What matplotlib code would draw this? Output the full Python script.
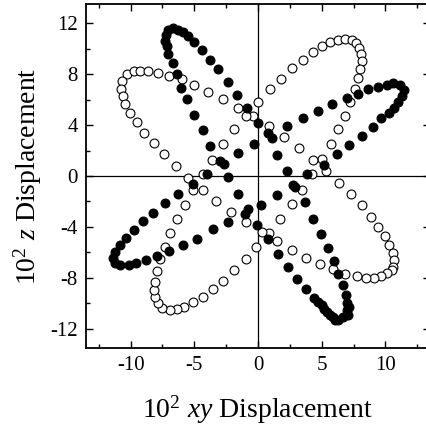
import matplotlib
matplotlib.use('Agg')
import matplotlib.pyplot as plt
from matplotlib.ticker import MultipleLocator

plt.rcParams['font.family'] = ['Liberation Serif', 'DejaVu Serif']
plt.rcParams['mathtext.fontset'] = 'custom'
plt.rcParams['mathtext.rm'] = 'Liberation Serif'
plt.rcParams['mathtext.it'] = 'Liberation Serif:italic'
plt.rcParams['axes.unicode_minus'] = False

# filled-circle series (x, y) in units of 10^-2
filled_x = [
    -7.29, -7.23, -7.03, -6.64, -6.25, -5.85, -5.46, -5.02, -4.41, -3.76, -3.11, -2.37, -1.67, -0.84, -0.02,
    -7.11, -7.03, -6.68, -6.32, -6.06, -5.59, -4.99, -4.33, -3.76, -2.98, -2.66, -2.33,
    -3.97, -1.54, -0.29, 0.81, 1.07, 2.25, 3.50, 1.51, 2.30, 3.86, 2.72, 2.90, 1.47, 0.24, -1.59, -1.02, -0.76,
    -2.33, -0.04, -3.55, 3.68, 4.33,
    4.68, 5.78, 6.95, 7.86,
    8.64, 9.43, 10.09, 10.60, 11.13, 11.44, 11.34, 11.00, 10.66, 10.29,
    9.69, 8.99, 8.13, 7.16, 6.21, 5.17,
    -5.07, -6.25, -7.29, -8.21, -9.04, -9.77,
    -10.34, -10.87, -11.26, -11.39, -11.21, -10.82, -10.16, -9.56,
    -8.78, -7.89, -6.95, -5.90, -4.80,
    4.91, 5.46, 5.96, 6.29, 6.64, 6.90, 7.00,
    7.16, 6.95, 7.08, 6.68, 6.29, 6.03, 5.85, 5.64, 5.43, 5.17, 4.99, 4.73,
    4.39, 3.76, 3.08, 2.37, 1.59, 0.81,
]
filled_y = [
    10.57, 11.09, 11.43, 11.59, 11.48, 11.27, 10.96, 10.49, 9.87, 9.14, 8.36, 7.37, 6.33, 5.37, 4.14,
    10.18, 9.61, 8.83, 7.97, 6.93, 6.02, 4.79, 3.62, 2.37, 1.20, 0.94, -0.10,
    0.16, 1.77, 2.50, 3.41, 3.02, 3.93, 4.59, 1.64, 0.41, 0.12, -0.70, -0.88, -1.48, -2.24, -1.41, -2.97, -2.58,
    -3.62, -3.83, -4.14, -2.05, -3.36,
    5.10, 5.63, 6.12, 6.46,
    6.80, 6.98, 7.13, 7.27, 7.11, 6.74, 6.27, 5.80, 5.37, 4.98,
    4.53, 3.88, 3.15, 2.42, 1.72, 0.88,
    -0.63, -1.41, -2.13, -2.91, -3.57, -4.22,
    -4.84, -5.39, -5.96, -6.43, -6.82, -7.01, -6.95, -6.80,
    -6.56, -6.27, -5.91, -5.45, -4.92,
    -4.53, -5.65, -6.70, -7.73, -8.57, -9.35, -10.00,
    -10.26, -10.52, -10.91, -11.04, -11.30, -11.30, -11.04, -10.91, -10.70, -10.45, -10.13, -9.92,
    -9.61, -8.88, -8.05, -7.13, -6.09, -4.98,
]

# open-circle series
open_x = [
    0.94, 1.80, 2.64, 3.50, 4.29, 4.99, 5.64, 6.29, 6.82, 7.34, 7.68, 7.94, 8.07, 8.13, 7.99, 7.86, 7.60, 7.26,
    6.82, 6.29, 5.70, 4.99, 4.21,
    0.02, -0.42, 0.89, 2.04, 3.24, 4.33,
    5.36, 6.37, 7.29, 8.13, 8.83, 9.43, 9.95, 10.29, 10.56, 10.66, 10.60, 10.48, 10.13, 9.69, 9.09, 8.46, 7.74,
    6.82, 5.85, 4.86, 3.76, 2.64, 1.47, 0.89, 0.29, -0.16,
    3.42, 2.64, 1.72,
    -0.94, -1.88, -2.72, -3.55, -4.33, -5.07, -5.78, -6.37, -6.90, -7.55, -7.86, -8.07, -8.15, -8.07, -7.89,
    -7.68, -7.29, -6.90, -6.37, -5.72, -5.07, -4.33, -5.46, -4.33, -3.29, -2.12, -0.94,
    -10.29, -9.77, -9.25, -8.60, -7.81, -6.95, -5.98, -4.99, -3.89, -2.72, -1.54, -0.94,
    -10.68, -10.76, -10.63, -10.42, -10.03, -9.51, -8.93, -8.15, -7.37, -6.43,
    -1.86, -2.72, -3.58,
]
open_y = [
    6.80, 7.63, 8.44, 9.14, 9.74, 10.23, 10.52, 10.70, 10.78, 10.70, 10.45, 10.05, 9.61, 9.06, 8.41, 7.66, 6.80, 5.80,
    4.71, 3.67, 2.50, 1.33, 0.16,
    5.80, 4.71, 3.93, 3.10, 2.16, 1.27,
    0.41, -0.55, -1.41, -2.27, -3.18, -4.01, -4.74, -5.39, -6.02, -6.62, -7.13, -7.40, -7.58, -7.84, -7.97, -7.97, -7.84,
    -7.66, -7.32, -6.93, -6.41, -5.78, -5.13, -4.45, -4.40, -5.57,
    -1.07, -2.23, -3.40,
    -6.48, -7.40, -8.23, -8.88, -9.48, -9.92, -10.26, -10.45, -10.52, -10.34, -10.00, -9.48, -8.96, -8.30, -7.48,
    -6.48, -5.57, -4.48, -3.41, -2.24, -1.07, -1.07, -0.18, 0.16, -1.93, -2.79, -3.62,
    7.97, 8.23, 8.28, 8.23, 8.10, 7.84, 7.58, 7.11, 6.62, 6.02, 5.37, 4.71,
    7.45, 6.85, 6.27, 5.68, 4.98, 4.20, 3.41, 2.58, 1.72, 0.76,
    3.67, 2.50, 1.29,
]

x_ticks = [-10, -5, 0, 5, 10]
y_ticks = [-12, -8, -4, 0, 4, 8, 12]

fig = plt.figure(figsize=(4.26, 4.30), dpi=100)
ax = fig.add_axes([86/426, 82/430, 344/426, 344/430])

ax.axhline(0, color='black', lw=0.9, zorder=1)
ax.axvline(0, color='black', lw=0.9, zorder=1)

ax.plot(open_x, open_y, linestyle='none', marker='o', markersize=6.4,
        markerfacecolor='white', markeredgecolor='black', markeredgewidth=0.8, zorder=2)
ax.plot(filled_x, filled_y, linestyle='none', marker='o', markersize=6.4,
        markerfacecolor='black', markeredgecolor='black', markeredgewidth=0.8, zorder=3)

ax.set_xlim(-13.5, 13.5)
ax.set_ylim(-13.5, 13.5)
ax.set_xticks(x_ticks)
ax.set_yticks(y_ticks)
ax.xaxis.set_minor_locator(MultipleLocator(2.5))
ax.yaxis.set_minor_locator(MultipleLocator(2))
ax.tick_params(which='both', direction='in', top=True, right=True, width=1.0)
ax.tick_params(which='major', length=5, labelsize=15, pad=6)
ax.tick_params(which='minor', length=3)
for s in ax.spines.values():
    s.set_linewidth(1.3)

ax.set_xlabel(r'$10^2$ $xy$ Displacement', fontsize=20, labelpad=13)
ax.set_ylabel(r'$10^2$ $z$ Displacement', fontsize=20, labelpad=4)

fig.savefig('out.png', dpi=100)
